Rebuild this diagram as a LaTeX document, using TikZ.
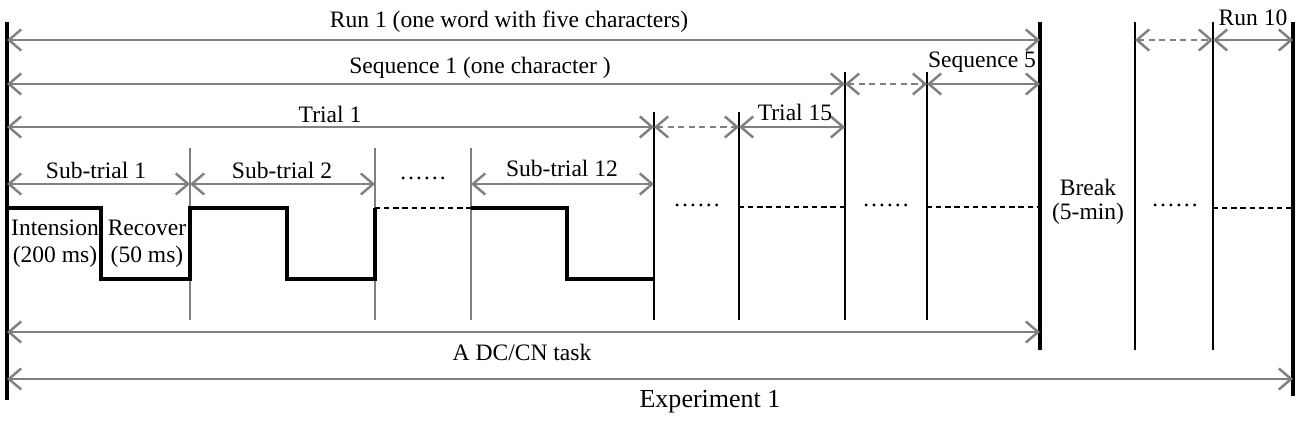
\documentclass[tikz,border=0pt]{standalone}
\usepackage{fontspec}
\setmainfont{Liberation Serif}
\usetikzlibrary{arrows.meta}
\definecolor{ag}{RGB}{128,128,128}
\begin{document}
\begin{tikzpicture}[x=0.02cm,y=-0.02cm,
  lbl/.style={inner sep=0pt,font=\fontsize{13.4pt}{16pt}\selectfont},
  span/.style={draw=ag,line width=1.4pt,{Straight Barb[length=7pt,width=12pt]}-{Straight Barb[length=7pt,width=12pt]}},
  gspan/.style={span,dash pattern=on 3.5pt off 2.5pt},
  bigv/.style={draw=black,line width=1.8pt},
  midv/.style={draw=black,line width=1.3pt},
  thinv/.style={draw=ag,line width=0.7pt},
  wave/.style={draw=black,line width=1.8pt},
  wdash/.style={draw=black,line width=1.3pt,dash pattern=on 3pt off 2.2pt},
  dots/.style={inner sep=0pt,font=\fontsize{13.4pt}{16pt}\selectfont}]
\useasboundingbox (0,0) rectangle (1300,421);
% coordinates
\coordinate (L0) at (7,22); \coordinate (L1) at (7,400);
\coordinate (R0) at (1293,22); \coordinate (R1) at (1293,396);
\coordinate (E1t) at (1040,22); \coordinate (E1b) at (1040,350);
\coordinate (Bt) at (1135,22); \coordinate (Bb) at (1135,350);
\coordinate (Ct) at (1213,22); \coordinate (Cb) at (1213,350);
\coordinate (S1t) at (845,72); \coordinate (S1b) at (845,320);
\coordinate (S5t) at (927,72); \coordinate (S5b) at (927,320);
\coordinate (T1t) at (654,112); \coordinate (T1b) at (654,320);
\coordinate (T15t) at (739,112); \coordinate (T15b) at (739,320);
\coordinate (a1t) at (190,148); \coordinate (a1b) at (190,320);
\coordinate (a2t) at (375,148); \coordinate (a2b) at (375,320);
\coordinate (a3t) at (471,148); \coordinate (a3b) at (471,320);
% verticals
\draw[bigv] (L0) -- (L1);
\draw[bigv] (R0) -- (R1);
\draw[bigv] (E1t) -- (E1b);
\draw[midv] (Bt) -- (Bb);
\draw[midv] (Ct) -- (Cb);
\draw[midv] (S1t) -- (S1b);
\draw[midv] (S5t) -- (S5b);
\draw[midv] (T1t) -- (T1b);
\draw[midv] (T15t) -- (T15b);
\draw[thinv] (a1t) -- (a1b);
\draw[thinv] (a2t) -- (a2b);
\draw[thinv] (a3t) -- (a3b);
% span arrows
\coordinate (r1a) at (7,40); \coordinate (r1b) at (1040,40);
\coordinate (r2a) at (1135,40); \coordinate (r2b) at (1213,40); \coordinate (r3b) at (1293,40);
\coordinate (s1a) at (7,84); \coordinate (s1b) at (845,84);
\coordinate (s2b) at (927,84); \coordinate (s3b) at (1040,84);
\coordinate (t1a) at (7,127); \coordinate (t1b) at (654,127);
\coordinate (t2b) at (739,127); \coordinate (t3b) at (845,127);
\coordinate (u1a) at (7,184); \coordinate (u1b) at (190,184);
\coordinate (u2b) at (375,184); \coordinate (u3a) at (471,184); \coordinate (u3b) at (654,184);
\coordinate (ta) at (7,332); \coordinate (tb) at (1040,332);
\coordinate (xa) at (7,379); \coordinate (xb) at (1293,379);
\draw[span] (r1a) -- (r1b);
\draw[gspan] (r2a) -- (r2b);
\draw[span] (r2b) -- (r3b);
\draw[span] (s1a) -- (s1b);
\draw[gspan] (s1b) -- (s2b);
\draw[span] (s2b) -- (s3b);
\draw[span] (t1a) -- (t1b);
\draw[gspan] (t1b) -- (t2b);
\draw[span] (t2b) -- (t3b);
\draw[span] (u1a) -- (u1b);
\draw[span] (u1b) -- (u2b);
\draw[span] (u3a) -- (u3b);
\draw[span] (ta) -- (tb);
\draw[span] (xa) -- (xb);
% labels
\node[lbl] (lrun1) at (509,22) {Run 1 (one word with five characters)};
\node[lbl] (lrun10) at (1253,18) {Run 10};
\node[lbl] (lseq1) at (480,68) {Sequence 1 (one character )};
\node[lbl] (lseq5) at (982,62) {Sequence 5};
\node[lbl] (ltr1) at (330,114) {Trial 1};
\node[lbl] (ltr15) at (795,112) {Trial 15};
\node[lbl] (lst1) at (96,170) {Sub-trial 1};
\node[lbl] (lst2) at (282,170) {Sub-trial 2};
\node[lbl] (lst12) at (562,168) {Sub-trial 12};
\node[dots] (d0) at (423,178) {……};
\node[lbl] (lint) at (55,228) {Intension};
\node[lbl] (lint2) at (55,257) {(200 ms)};
\node[lbl] (lrec) at (147,228) {Recover};
\node[lbl] (lrec2) at (147,257) {(50 ms)};
\node[lbl] (lbr) at (1088,187) {Break};
\node[lbl] (lbr2) at (1088,214) {(5-min)};
\node[lbl] (ltask) at (522,352) {A DC/CN task};
\node[lbl,font=\fontsize{14.8pt}{17pt}\selectfont] (lexp) at (710,402) {Experiment 1};
% waveform
\draw[wave] (7,208) -- (101,208) -- (101,279) -- (190,279) -- (190,208) -- (287,208) -- (287,279) -- (375,279) -- (375,208);
\draw[wdash] (375,208) -- (471,208);
\draw[wave] (471,208) -- (567,208) -- (567,279) -- (654,279);
\node[dots] (d1) at (697,205) {……};
\draw[wdash] (739,207) -- (845,207);
\node[dots] (d2) at (886,205) {……};
\draw[wdash] (927,207) -- (1040,207);
\node[dots] (d3) at (1175,205) {……};
\draw[wdash] (1213,208) -- (1293,208);
\end{tikzpicture}
\end{document}
